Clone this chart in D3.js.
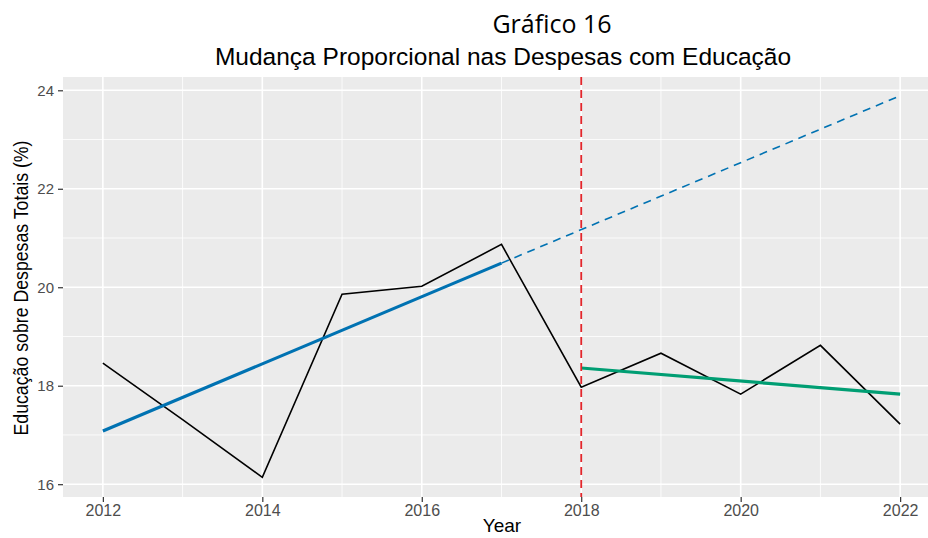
<!DOCTYPE html>
<html>
<head>
<meta charset="utf-8">
<script src="https://cdn.jsdelivr.net/npm/d3@7"></script>
<style>
  html, body { margin: 0; padding: 0; background: #fff; }
  svg { display: block; }
</style>
</head>
<body>
<svg id="chart" width="928" height="538"></svg>
<script>
// Share of education in total spending, by year
const years  = [2012, 2013, 2014, 2015, 2016, 2017, 2018, 2019, 2020, 2021, 2022];
const values = [18.46, 17.31, 16.14, 19.86, 20.02, 20.87, 17.97, 18.66, 17.83, 18.82, 17.22];

// Pre-2018 linear trend (solid over the fitted span, dashed as projection)
const trendPreYears  = [2012, 2017];
const trendPreValues = [17.08, 20.49];
const projYears      = [2017, 2022];
const projValues     = [20.49, 23.89];

// Post-2018 linear trend
const trendPostYears  = [2018, 2022];
const trendPostValues = [18.36, 17.83];

const breakYear = 2018;
const xTicks = [2012, 2014, 2016, 2018, 2020, 2022];
const yTicks = [16, 18, 20, 22, 24];
const xMinor = [2013, 2015, 2017, 2019, 2021];
const yMinor = [17, 19, 21, 23];

const svg = d3.select("#chart");
const panel = { left: 63, top: 77, right: 940, bottom: 497 };

const x = d3.scaleLinear().domain([2011.5, 2022.5]).range([panel.left, panel.right]);
const y = d3.scaleLinear().domain([15.74, 24.27]).range([panel.bottom, panel.top]);

const sans = "'Liberation Sans', Arial, sans-serif";

// Titles
svg.append("text")
  .attr("x", 552).attr("y", 33)
  .attr("text-anchor", "middle")
  .attr("font-family", "'Open Sans', 'Noto Sans', sans-serif")
  .attr("font-size", 25)
  .attr("fill", "#000")
  .text("Gráfico 16");

svg.append("text")
  .attr("x", 503).attr("y", 65)
  .attr("text-anchor", "middle")
  .attr("font-family", sans)
  .attr("font-size", 24.5)
  .attr("fill", "#000")
  .text("Mudança Proporcional nas Despesas com Educação");

// Panel background
svg.append("rect")
  .attr("x", panel.left).attr("y", panel.top)
  .attr("width", panel.right - panel.left)
  .attr("height", panel.bottom - panel.top)
  .attr("fill", "#EBEBEB");

const grid = svg.append("g");
grid.selectAll(".xminor").data(xMinor).join("line")
  .attr("x1", d => x(d)).attr("x2", d => x(d))
  .attr("y1", panel.top).attr("y2", panel.bottom)
  .attr("stroke", "#fff").attr("stroke-width", 0.8);
grid.selectAll(".yminor").data(yMinor).join("line")
  .attr("y1", d => y(d)).attr("y2", d => y(d))
  .attr("x1", panel.left).attr("x2", panel.right)
  .attr("stroke", "#fff").attr("stroke-width", 0.8);
grid.selectAll(".xmajor").data(xTicks).join("line")
  .attr("x1", d => x(d)).attr("x2", d => x(d))
  .attr("y1", panel.top).attr("y2", panel.bottom)
  .attr("stroke", "#fff").attr("stroke-width", 1.6);
grid.selectAll(".ymajor").data(yTicks).join("line")
  .attr("y1", d => y(d)).attr("y2", d => y(d))
  .attr("x1", panel.left).attr("x2", panel.right)
  .attr("stroke", "#fff").attr("stroke-width", 1.6);

// Axes
const xAxis = svg.append("g")
  .attr("transform", `translate(0,${panel.bottom})`)
  .call(d3.axisBottom(x).tickValues(xTicks).tickFormat(d3.format("d")).tickSize(5).tickPadding(3));
const yAxis = svg.append("g")
  .attr("transform", `translate(${panel.left},0)`)
  .call(d3.axisLeft(y).tickValues(yTicks).tickFormat(d3.format("d")).tickSize(5).tickPadding(4));

[xAxis, yAxis].forEach(ax => {
  ax.select(".domain").remove();
  ax.selectAll(".tick line").attr("stroke", "#333").attr("stroke-width", 1.2);
  ax.selectAll(".tick text")
    .attr("fill", "#4D4D4D")
    .attr("font-family", sans);
});
xAxis.selectAll(".tick text").attr("font-size", 16);
yAxis.selectAll(".tick text").attr("font-size", 15);

// Axis titles
svg.append("text")
  .attr("x", 502).attr("y", 532)
  .attr("text-anchor", "middle")
  .attr("font-family", sans)
  .attr("font-size", 19)
  .text("Year");

svg.append("text")
  .attr("transform", "translate(28,288) rotate(-90)")
  .attr("text-anchor", "middle")
  .attr("font-family", sans)
  .attr("font-size", 21)
  .attr("textLength", 295)
  .attr("lengthAdjust", "spacingAndGlyphs")
  .text("Educação sobre Despesas Totais (%)");

const line = d3.line().x(d => x(d[0])).y(d => y(d[1]));

// Projection of the pre-2018 trend
svg.append("path")
  .datum(d3.zip(projYears, projValues))
  .attr("d", line)
  .attr("fill", "none")
  .attr("stroke", "#0072B2")
  .attr("stroke-width", 1.6)
  .attr("stroke-dasharray", "8,6");

// Observed series
svg.append("path")
  .datum(d3.zip(years, values))
  .attr("d", line)
  .attr("fill", "none")
  .attr("stroke", "#000")
  .attr("stroke-width", 1.6)
  .attr("stroke-linejoin", "miter");

// Fitted trends
svg.append("path")
  .datum(d3.zip(trendPreYears, trendPreValues))
  .attr("d", line)
  .attr("fill", "none")
  .attr("stroke", "#0072B2")
  .attr("stroke-width", 3.2);

svg.append("path")
  .datum(d3.zip(trendPostYears, trendPostValues))
  .attr("d", line)
  .attr("fill", "none")
  .attr("stroke", "#009E73")
  .attr("stroke-width", 3.2);

// Break marker
svg.append("line")
  .attr("x1", x(breakYear)).attr("x2", x(breakYear))
  .attr("y1", panel.top).attr("y2", panel.bottom)
  .attr("stroke", "#E3262B")
  .attr("stroke-width", 1.8)
  .attr("stroke-dasharray", "8,5");
</script>
</body>
</html>
